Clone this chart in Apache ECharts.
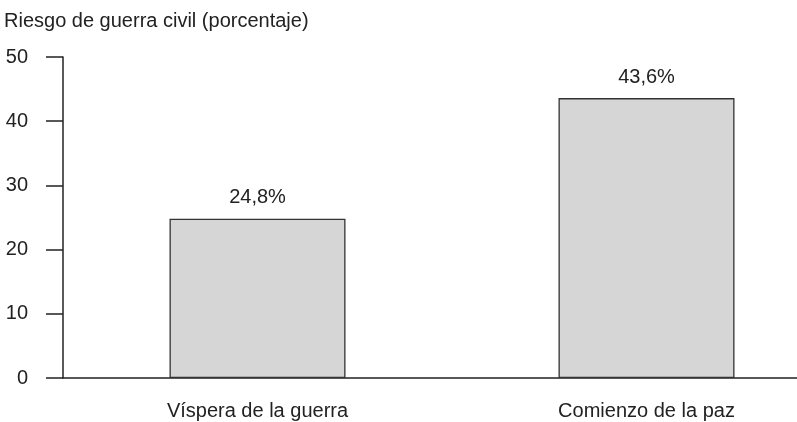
<!DOCTYPE html>
<html>
<head>
<meta charset="utf-8">
<script src="https://cdn.jsdelivr.net/npm/echarts@6/dist/echarts.min.js"></script>
<style>
  html, body { margin: 0; padding: 0; background: #fff; }
  #chart { width: 797px; height: 422px; }
</style>
</head>
<body>
<div id="chart"></div>
<script>
// Risk of civil war at two moments (percentage)
const categories = ['Víspera de la guerra', 'Comienzo de la paz'];
const riskValues = [24.8, 43.6];
const yTicks = [0, 10, 20, 30, 40, 50];

const FONT = '"Liberation Sans", Arial, sans-serif';
const chart = echarts.init(document.getElementById('chart'), null, { renderer: 'canvas' });

chart.setOption({
  backgroundColor: '#ffffff',
  animation: false,
  title: {
    text: 'Riesgo de guerra civil (porcentaje)',
    left: 4,
    top: 11,
    padding: 0,
    textStyle: { fontFamily: FONT, fontSize: 20, fontWeight: 'normal', color: '#222' }
  },
  // the plot area runs past the right edge so the second bar sits off-centre
  grid: { left: 63, top: 57, width: 778, bottom: 44, containLabel: false, outerBoundsMode: 'none' },
  xAxis: {
    type: 'category',
    data: categories,
    axisLine: { show: true, lineStyle: { color: '#222', width: 1.5 } },
    axisTick: { show: false },
    axisLabel: { margin: 23, fontFamily: FONT, fontSize: 20, color: '#222' },
    splitLine: { show: false }
  },
  yAxis: {
    type: 'value',
    min: yTicks[0],
    max: yTicks[yTicks.length - 1],
    interval: 10,
    axisLine: { show: true, lineStyle: { color: '#222', width: 1.5 } },
    axisTick: { show: true, inside: false, length: 17, lineStyle: { color: '#222', width: 1.5 } },
    axisLabel: { margin: 35, fontFamily: FONT, fontSize: 20, color: '#222', align: 'right' },
    splitLine: { show: false }
  },
  series: [{
    type: 'bar',
    data: riskValues,
    barWidth: 176,
    itemStyle: { color: '#d6d6d6', borderColor: '#333', borderWidth: 1.3 },
    label: {
      show: true,
      position: 'top',
      distance: 11,
      fontFamily: FONT,
      fontSize: 20,
      color: '#222',
      formatter: p => String(p.value).replace('.', ',') + '%'
    }
  }]
});
</script>
</body>
</html>
